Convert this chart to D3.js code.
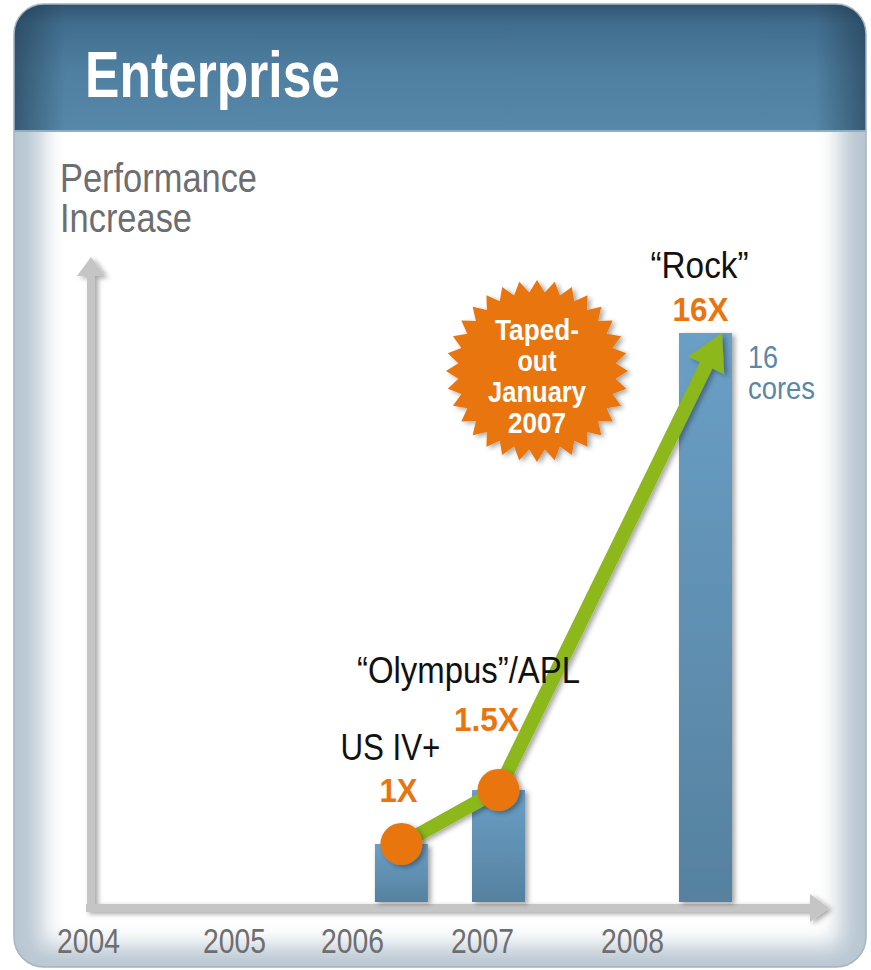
<!DOCTYPE html>
<html>
<head>
<meta charset="utf-8">
<script src="https://cdn.jsdelivr.net/npm/d3@7/dist/d3.min.js"></script>
<style>
  body { margin: 0; background: #fff; }
  text { font-family: "Liberation Sans Narrow", "Arial Narrow", "Liberation Sans", sans-serif; }
</style>
</head>
<body>
<script>
// ---- DATA ---------------------------------------------------------------
var years     = [2004, 2005, 2006, 2007, 2008];
var chips     = ["US IV+", "\u201cOlympus\u201d/APL", "\u201cRock\u201d"];
var chipYear  = [2006.38, 2007.11, 2008.49];   // where each bar sits on the time axis
var perf      = [1, 1.5, 16];                  // performance increase
var perfLabel = ["1X", "1.5X", "16X"];
var arrowYear = 2008.6;                        // the green arrow ends a bit right of "Rock"
var coreNote  = ["16", "cores"];
var burstText = ["Taped-", "out", "January", "2007"];
var title     = "Enterprise";
var yTitle    = ["Performance", "Increase"];

// ---- SVG INIT -----------------------------------------------------------
var W = 871, H = 970;
var svg = d3.select("body").append("svg").attr("width", W).attr("height", H);
var defs = svg.append("defs");

// time axis is drawn a little uneven in the original, so a polylinear scale
var x = d3.scaleLinear().domain([2004, 2005, 2006, 2007, 2008, 2009])
  .range([88, 234, 352, 482, 632, 782]);
// schematic value axis (not proportional in the slide)
var y = d3.scaleLinear().domain([0, 1, 1.5, 16]).range([902, 844, 790, 333]);

var grey = "#6d6e71", orange = "#e8750f", green = "#8db81c", steel = "#5a87a8";

// gradients / filters
function vgrad(id, stops, horiz) {
  var g = defs.append("linearGradient").attr("id", id)
    .attr("x1", 0).attr("y1", 0).attr("x2", horiz ? 1 : 0).attr("y2", horiz ? 0 : 1);
  stops.forEach(function (s) {
    g.append("stop").attr("offset", s[0]).attr("stop-color", s[1])
      .attr("stop-opacity", s[2] == null ? 1 : s[2]);
  });
}
vgrad("hdr", [[0, "#2d506b"], [0.18, "#416d8d"], [0.55, "#4f7fa1"], [1, "#5688a9"]]);
vgrad("hdrSide", [[0, "#1c3347", 0.55], [0.06, "#1c3347", 0], [0.94, "#1c3347", 0], [1, "#1c3347", 0.55]], true);
vgrad("bar", [[0, "#6a9fc6"], [1, "#56819f"]]);

var f = defs.append("filter").attr("id", "soft").attr("x", "-20%").attr("y", "-20%")
  .attr("width", "140%").attr("height", "140%");
f.append("feGaussianBlur").attr("stdDeviation", 11);

var sh = defs.append("filter").attr("id", "shadow").attr("x", "-30%").attr("y", "-30%")
  .attr("width", "160%").attr("height", "160%");
sh.append("feDropShadow").attr("dx", 3).attr("dy", 2).attr("stdDeviation", 2.5)
  .attr("flood-color", "#000").attr("flood-opacity", 0.35);

defs.append("clipPath").attr("id", "card").append("rect")
  .attr("x", 14).attr("y", 4).attr("width", 852).attr("height", 963).attr("rx", 30);

// ---- CARD ---------------------------------------------------------------
var card = svg.append("g").attr("clip-path", "url(#card)");
card.append("rect").attr("x", 0).attr("y", 0).attr("width", W).attr("height", H)
  .attr("fill", "#b9c7d2");
card.append("rect").attr("x", 42).attr("y", 110).attr("width", 798).attr("height", 836)
  .attr("fill", "#fff").attr("filter", "url(#soft)");
card.append("rect").attr("x", 0).attr("y", 0).attr("width", W).attr("height", 131)
  .attr("fill", "url(#hdr)");
card.append("rect").attr("x", 14).attr("y", 0).attr("width", 852).attr("height", 131)
  .attr("fill", "url(#hdrSide)");
card.append("rect").attr("x", 0).attr("y", 130).attr("width", W).attr("height", 2)
  .attr("fill", "#8eaec4");
svg.append("rect").attr("x", 14).attr("y", 4).attr("width", 852).attr("height", 963).attr("rx", 30)
  .attr("fill", "none").attr("stroke", "#a3b4c2").attr("stroke-width", 1.5);

svg.append("text").attr("x", 85).attr("y", 97).attr("fill", "#fff")
  .attr("font-size", 64).attr("font-weight", "bold")
  .attr("textLength", 255).attr("lengthAdjust", "spacingAndGlyphs").text(title);

// helper for the condensed slide type
function label(str, px, py, size, fill, w, opts) {
  opts = opts || {};
  var t = svg.append("text").attr("x", px).attr("y", py).attr("fill", fill)
    .attr("font-size", size).attr("font-weight", opts.bold ? "bold" : null)
    .attr("text-anchor", opts.anchor || "start").text(str);
  if (w) t.attr("textLength", w).attr("lengthAdjust", "spacingAndGlyphs");
  return t;
}

label(yTitle[0], 60, 192, 40, grey, 197);
label(yTitle[1], 60, 232, 40, grey, 132);

// ---- AXES ---------------------------------------------------------------
var axisCol = "#c5c5c5";
var axes = svg.append("g").attr("filter", "url(#shadow)");
axes.append("rect").attr("x", x(2004) - 1).attr("y", 273).attr("width", 8)
  .attr("height", y(0) + 10 - 273).attr("fill", axisCol);
axes.append("path").attr("fill", axisCol)
  .attr("d", "M" + (x(2004) + 3) + ",257 l14,19 l-28,0 z");
axes.append("rect").attr("x", x(2004) - 2).attr("y", y(0) + 2).attr("width", 812 - x(2004))
  .attr("height", 8).attr("fill", axisCol);
axes.append("path").attr("fill", axisCol)
  .attr("d", "M829," + (y(0) + 6) + " l-19,-14 l0,28 z");

var xAxis = d3.axisBottom(x).tickValues(years).tickFormat(d3.format("d"))
  .tickSize(0).tickPadding(0);
var gx = svg.append("g").attr("transform", "translate(0,953)").call(xAxis);
gx.select(".domain").remove();
gx.selectAll("text").attr("y", 0).attr("dy", 0)
  .attr("fill", grey).attr("font-size", 35)
  .attr("font-family", "'Liberation Sans Narrow','Arial Narrow','Liberation Sans',sans-serif")
  .attr("textLength", 63).attr("lengthAdjust", "spacingAndGlyphs");

// ---- BARS ---------------------------------------------------------------
var barW = 53;
svg.append("g").attr("filter", "url(#shadow)")
  .selectAll("rect").data(perf).join("rect")
  .attr("x", function (d, i) { return x(chipYear[i]) - barW / 2; })
  .attr("y", function (d) { return y(d); })
  .attr("width", barW)
  .attr("height", function (d) { return y(0) - y(d); })
  .attr("fill", "url(#bar)");

// ---- STARBURST ----------------------------------------------------------
var bx = 537, by = 371, nSpikes = 32;
var spikes = d3.range(nSpikes * 2).map(function (i) {
  return [i * Math.PI / nSpikes, i % 2 ? 79 : 91];
});
svg.append("path").attr("transform", "translate(" + bx + "," + by + ")")
  .attr("d", d3.lineRadial().curve(d3.curveLinearClosed)(spikes))
  .attr("fill", orange).attr("filter", "url(#shadow)");
var burstW = [84, 39, 98, 58];
var bt = svg.append("text").attr("fill", "#fff").attr("font-size", 30)
  .attr("font-weight", "bold").attr("text-anchor", "middle");
burstText.forEach(function (s, i) {
  bt.append("tspan").attr("x", bx).attr("y", 340 + i * 31)
    .attr("textLength", burstW[i]).attr("lengthAdjust", "spacingAndGlyphs").text(s);
});

// ---- GREEN TREND ARROW --------------------------------------------------
var pts = [[x(chipYear[0]), y(perf[0])], [x(chipYear[1]), y(perf[1])], [x(arrowYear), y(perf[2])]];
var tip = pts[2], prev = pts[1];
var dx = tip[0] - prev[0], dy = tip[1] - prev[1], len = Math.sqrt(dx * dx + dy * dy);
var ux = dx / len, uy = dy / len, headL = 36, headW = 20;
var linePts = [pts[0], pts[1], [tip[0] - ux * (headL - 4), tip[1] - uy * (headL - 4)]];
var trend = svg.append("g").attr("filter", "url(#shadow)");
trend.append("path").attr("d", d3.line()(linePts))
  .attr("fill", "none").attr("stroke", green).attr("stroke-width", 14)
  .attr("stroke-linejoin", "round");
var bcx = tip[0] - ux * headL, bcy = tip[1] - uy * headL;
trend.append("path").attr("fill", green)
  .attr("d", "M" + tip[0] + "," + tip[1] +
    "L" + (bcx - uy * headW) + "," + (bcy + ux * headW) +
    "L" + (bcx + uy * headW) + "," + (bcy - ux * headW) + "Z");

svg.append("g").selectAll("circle").data(pts.slice(0, 2)).join("circle")
  .attr("cx", function (d) { return d[0]; }).attr("cy", function (d) { return d[1]; })
  .attr("r", 21).attr("fill", orange).attr("filter", "url(#shadow)");

// ---- ANNOTATIONS --------------------------------------------------------
// offsets from each bar top (layout only)
var nameAt  = [[-11, -84, 100], [-30, -107, 223], [-6, -55, 98]];
var valueAt = [[-3, -42, 38], [-12, -59, 65], [-5, -12, 56]];
chips.forEach(function (s, i) {
  var cx = x(chipYear[i]), top = y(perf[i]);
  label(s, cx + nameAt[i][0], top + nameAt[i][1], 36, "#111", nameAt[i][2], { anchor: "middle" });
  label(perfLabel[i], cx + valueAt[i][0], top + valueAt[i][1], 34, orange, valueAt[i][2],
    { bold: true, anchor: "middle" });
});
var cn = svg.append("text").attr("fill", steel).attr("font-size", 32);
var cnW = [30, 67];
coreNote.forEach(function (s, i) {
  cn.append("tspan").attr("x", x(chipYear[2]) + barW / 2 + 16).attr("y", 368 + i * 31)
    .attr("textLength", cnW[i]).attr("lengthAdjust", "spacingAndGlyphs").text(s);
});
</script>
</body>
</html>
